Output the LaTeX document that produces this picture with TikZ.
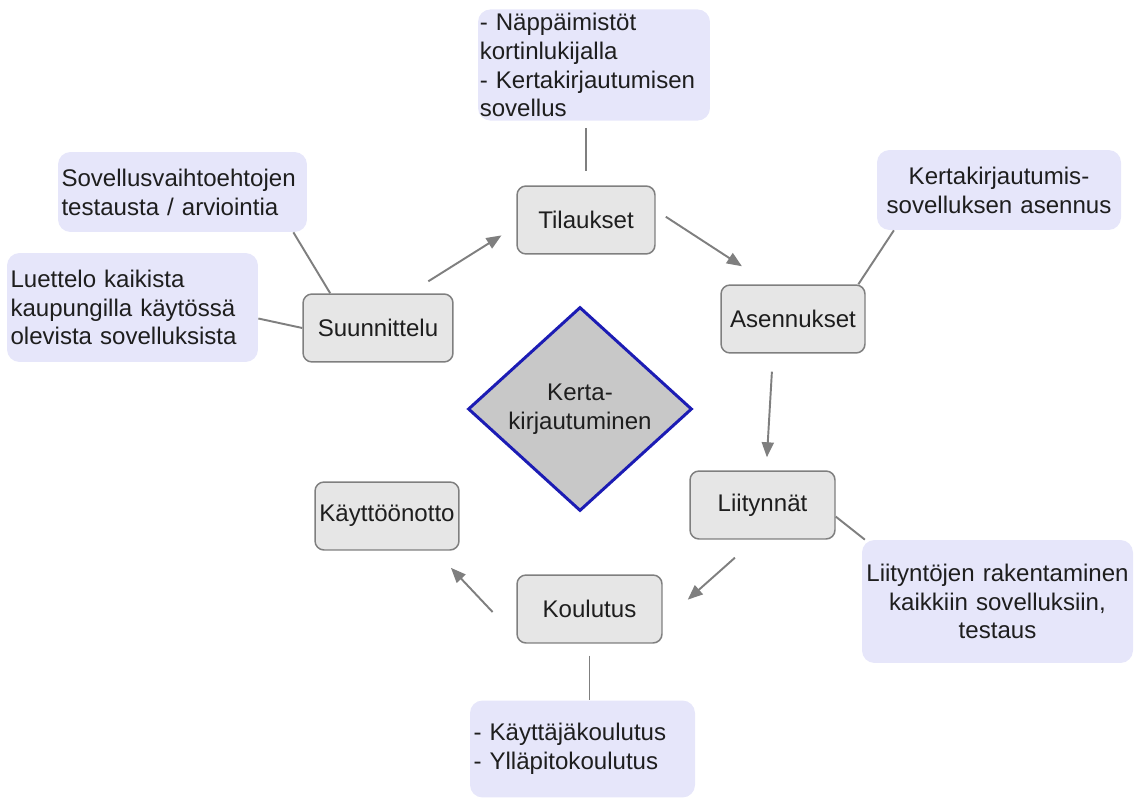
\documentclass[tikz,border=0pt]{standalone}
\usepackage{fontspec}
\setmainfont{Liberation Sans}
\usepackage{tikz}
\usetikzlibrary{arrows.meta,shapes.geometric}
\definecolor{ink}{HTML}{1E1E1E}
\definecolor{edge}{HTML}{7F7F7F}
\definecolor{boxgrey}{HTML}{E6E6E6}
\definecolor{lavender}{HTML}{E6E6FA}
\definecolor{hubgrey}{HTML}{C8C8C8}
\definecolor{hubblue}{HTML}{1C1CB4}

\begin{document}
\begin{tikzpicture}[x=0.02cm,y=-0.02cm,font=\fontsize{13.7}{16.4}\selectfont,text=ink,
  stage/.style={draw=edge,line width=0.85pt,fill=boxgrey,rounded corners=0.18cm,minimum width=2.9cm,minimum height=1.36cm,inner sep=1.5pt},
  note/.style={fill=lavender,rounded corners=0.25cm,inner xsep=2pt,inner ysep=2pt,execute at begin node={\hyphenpenalty=10000}},
  hub/.style={diamond,draw=hubblue,line width=1.7pt,fill=hubgrey,minimum width=4.48cm,minimum height=4.08cm,inner sep=0pt,align=center},
  flow/.style={draw=edge,line width=1.1pt,-{Triangle[length=0.3cm,width=0.24cm]}},
  link/.style={draw=edge,line width=1.1pt}]
  \useasboundingbox (0,0) rectangle (1141,803);

  % phases
  \node[stage,minimum width=2.76cm] (tila) at (586,220) {Tilaukset};
  \node[stage,minimum width=3.0cm] (suun) at (378,328) {Suunnittelu};
  \node[stage,minimum width=2.88cm] (asen) at (793,319) {Asennukset};
  \node[stage] (liit) at (762.5,505) {Liitynnät};
  \node[stage] (koul) at (589.5,609) {Koulutus};
  \node[stage,minimum width=2.88cm] (kayt) at (387,516) {Käyttöönotto};
  \node[hub] (kerta) at (580,409) {Kerta-\\kirjautuminen};

  % notes
  \node[note,inner xsep=1pt,text width=4.57cm,minimum height=2.2cm,align=left] (tilanote) at (594,65)
    {- Näppäimistöt\\kortinlukijalla\\- Kertakirjautumisen\\sovellus};
  \node[note,text width=4.84cm,minimum height=1.6cm,align=left] (suunnote1) at (182.5,192)
    {Sovellusvaihtoehtojen\\testausta / arviointia};
  \node[note,text width=4.88cm,minimum height=2.18cm,align=left] (suunnote2) at (132.5,307.5)
    {Luettelo kaikista\\kaupungilla käytössä\\olevista sovelluksista};
  \node[note,text width=4.74cm,minimum height=1.6cm,align=center] (asennote) at (999,190)
    {Kertakirjautumis-\\sovelluksen asennus};
  \node[note,inner xsep=1pt,text width=5.35cm,minimum height=2.46cm,align=center] (liitnote) at (997.5,601.5)
    {Liityntöjen rakentaminen\\kaikkiin sovelluksiin,\\testaus};
  \node[note,text width=4.36cm,minimum height=1.94cm,align=left] (koulnote) at (582.5,749)
    {- Käyttäjäkoulutus\\- Ylläpitokoulutus};

  % note links
  \draw[link,shorten <=0.14cm,shorten >=0.28cm] (tilanote.south -| tila.north) -- (tila.north);
  \draw[link] (suunnote1.-20) -- (suun.144);
  \draw[link] (suunnote2.-5) -- (suun.west);
  \draw[link] (asennote.201) -- (asen.28);
  \draw[link] (liit.-9) -- (liitnote.155);
  \draw[link,shorten <=0.24cm] (koul.south) -- (koulnote.north -| koul.south);

  % cycle
  \draw[flow,shorten <=0.45cm,shorten >=0.35cm] (suun.48) -- (tila.185);
  \draw[flow,shorten <=0.24cm,shorten >=0.66cm] (tila.8) -- (asen.124);
  \draw[flow,shorten <=0.36cm,shorten >=0.26cm] (asen.240) -- (liit.84);
  \draw[flow,shorten <=0.54cm,shorten >=0.67cm] (liit.258) -- (koul.-10);
  \draw[flow,shorten <=0.69cm,shorten >=0.47cm] (koul.201) -- (kayt.-36);
\end{tikzpicture}
\end{document}
